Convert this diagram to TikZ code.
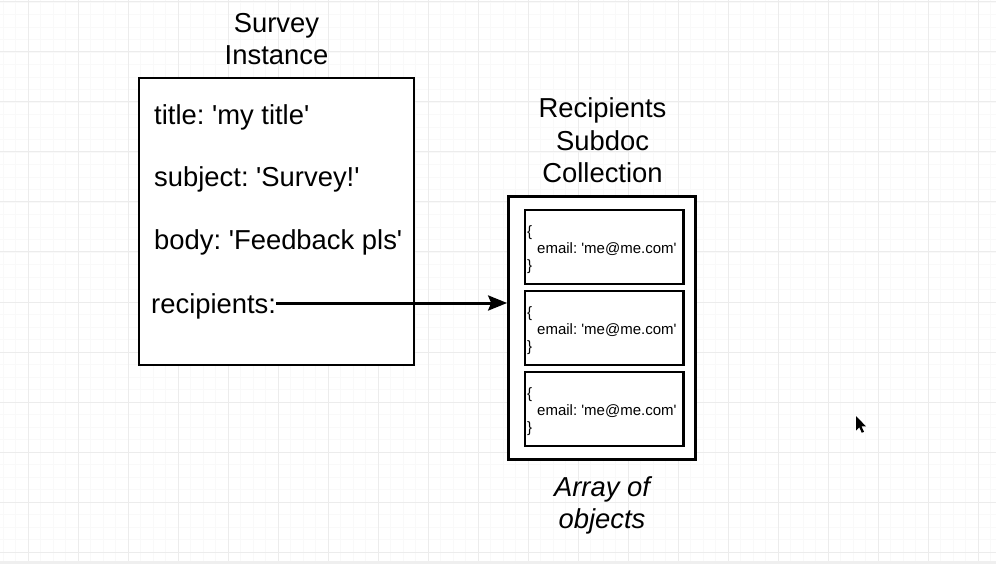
\documentclass[tikz,border=0pt]{standalone}
\usepackage{fontspec}
\setmainfont{Liberation Sans}[Ligatures=TeXOff]
\usetikzlibrary{arrows.meta}
\frenchspacing
\definecolor{gridmajor}{HTML}{ECECEC}
\definecolor{gridminor}{HTML}{F9F9F9}
\definecolor{bandgray}{HTML}{EFEFEF}
\tikzset{
  minorline/.style={gridminor, line width=0.8pt},
  majorline/.style={gridmajor, line width=1pt},
  boxframe/.style={draw=black, line width=2.7pt, inner sep=0pt, fill=white},
  bigtext/.style={inner sep=0pt, font=\fontsize{27.4}{32.5}\selectfont\frenchspacing, align=center},
  fieldtext/.style={inner sep=0pt, anchor=base west, font=\fontsize{27.4}{32.5}\selectfont\frenchspacing},
  smalltext/.style={inner sep=0pt, anchor=base west, align=left, font=\fontsize{15}{17}\selectfont\frenchspacing},
  conn/.style={draw=black, line width=3pt, -{Stealth[length=19pt,width=15pt,inset=3pt]}}
}
\begin{document}
\begin{tikzpicture}[x=1pt,y=-1pt]
\useasboundingbox (0,0) rectangle (996,564);
\fill[white] (0,0) rectangle (996,564);
% grid
\foreach \i in {0,...,79} \draw[minorline] ({3+12.5*\i},0) -- ({3+12.5*\i},561);
\foreach \j in {0,...,44} \draw[minorline] (0,{2+12.5*\j}) -- (996,{2+12.5*\j});
\foreach \i in {0,...,19} \draw[majorline] ({28+50*\i},0) -- ({28+50*\i},561);
\foreach \j in {0,...,11} \draw[majorline] (0,{2+50*\j}) -- (996,{2+50*\j});
\fill[bandgray] (0,561) rectangle (996,564);

% survey instance (anchor=base is the baseline of the last line)
\node[bigtext, anchor=base] (surveytitle) at (276.5,65) {Survey\\Instance};
\node[boxframe, minimum width=275pt, minimum height=287pt] (survey) at (276.5,221.5) {};
\node[fieldtext] (ftitle) at (154,125) {title: 'my title'};
\node[fieldtext] (fsubject) at (154,187) {subject: 'Survey!'};
\node[fieldtext] (fbody) at (154,250) {body: 'Feedback pls'};
\node[fieldtext] (recip) at (151,313) {recipients:};

% recipients collection
\node[bigtext, anchor=base] (colltitle) at (602.5,183) {Recipients\\Subdoc\\Collection};
\node[boxframe, minimum width=187.2pt, minimum height=262.6pt] (outer) at (602.1,328) {};
\node[boxframe, minimum width=158.5pt, minimum height=74pt] (item1) at (604.25,247) {};
\node[boxframe, minimum width=158.5pt, minimum height=74pt] (item2) at (604.25,328) {};
\node[boxframe, minimum width=158.5pt, minimum height=74pt] (item3) at (604.25,409) {};
\node[smalltext] (text1) at (527,270) {\{\\\hspace*{10pt}email: 'me@me.com'\\\}};
\node[smalltext] (text2) at (527,351) {\{\\\hspace*{10pt}email: 'me@me.com'\\\}};
\node[smalltext] (text3) at (527,432) {\{\\\hspace*{10pt}email: 'me@me.com'\\\}};
\node[bigtext, anchor=base, font=\fontsize{27.4}{31.5}\selectfont\itshape] (arraylabel) at (602,528) {Array of\\objects};

% connector
\draw[conn] ([yshift=10pt]recip.base east) -- ([yshift=10pt]recip.base east -| outer.west);

% mouse pointer
\fill[black] (856,416) -- (856,430.5) -- (859.3,427.3) -- (861.8,432.8) -- (864,431.8) -- (861.5,426.4) -- (866,426.4) -- cycle;
\end{tikzpicture}
\end{document}
